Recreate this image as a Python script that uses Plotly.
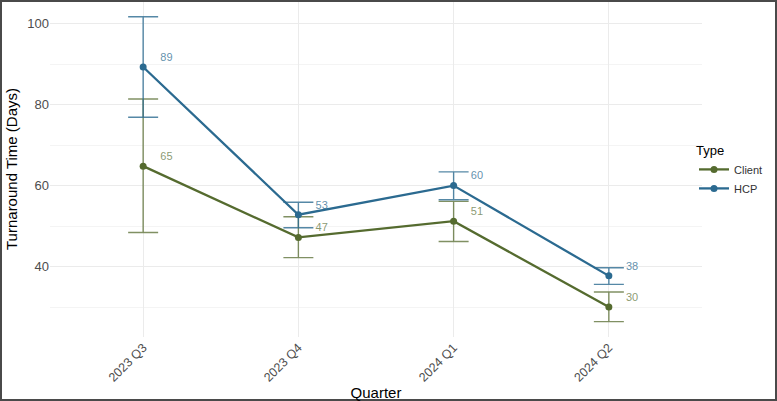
import plotly.graph_objects as go

quarters = ["2023 Q3", "2023 Q4", "2024 Q1", "2024 Q2"]

client_mean = [64.8, 47.2, 51.2, 30.0]
client_upper = [81.4, 52.3, 56.1, 33.7]
client_lower = [48.4, 42.2, 46.2, 26.4]

hcp_mean = [89.3, 52.8, 60.0, 37.7]
hcp_upper = [101.7, 55.9, 63.4, 39.7]
hcp_lower = [76.9, 49.6, 56.5, 35.6]

CLIENT = "#556B2F"
HCP = "#2B6A90"
CLIENT_ERR = "rgba(85,107,47,0.75)"
HCP_ERR = "rgba(43,106,144,0.8)"
CLIENT_TXT = "rgba(85,107,47,0.7)"
HCP_TXT = "rgba(43,106,144,0.75)"

xi = list(range(len(quarters)))

fig = go.Figure()

for name, mean, up, lo, col, ecol, tcol in [
    ("Client", client_mean, client_upper, client_lower, CLIENT, CLIENT_ERR, CLIENT_TXT),
    ("HCP", hcp_mean, hcp_upper, hcp_lower, HCP, HCP_ERR, HCP_TXT),
]:
    fig.add_trace(go.Scatter(
        x=xi, y=mean, name=name, mode="lines+markers",
        line=dict(color=col, width=2.3),
        marker=dict(color=col, size=7),
        error_y=dict(type="data", symmetric=False,
                     array=[u - m for u, m in zip(up, mean)],
                     arrayminus=[m - l for m, l in zip(mean, lo)],
                     color=ecol, thickness=1.4, width=15),
    ))
    fig.add_trace(go.Scatter(
        x=[i + 0.15 for i in xi], y=[m + 2.2 for m in mean],
        mode="text", text=[str(round(m)) for m in mean],
        textfont=dict(color=tcol, size=11, family="Liberation Sans, Arial"),
        showlegend=False, hoverinfo="skip",
    ))

L, R, T, B = 50, 75, 1, 64
W, H = 777, 401
pw, ph = W - L - R, H - T - B

def px(x):
    return (x - L) / pw

def py(y):
    return 1 - (y - T) / ph

fig.add_shape(type="rect", xref="paper", yref="paper",
              x0=px(1), x1=px(776), y0=py(400), y1=py(1),
              line=dict(color="#4a4a4a", width=2), fillcolor="rgba(0,0,0,0)", layer="above")

fig.update_layout(
    width=W, height=H,
    margin=dict(l=L, r=R, t=T, b=B),
    paper_bgcolor="white", plot_bgcolor="white",
    font=dict(family="Liberation Sans, Arial", color="#4D4D4D"),
    xaxis=dict(
        range=[-0.6, 3.6], tickvals=xi, ticktext=quarters, tickangle=-45,
        showgrid=True, gridcolor="#EBEBEB", gridwidth=1, zeroline=False,
        ticks="", tickfont=dict(size=12.5, color="#4D4D4D"),
        title=dict(text="Quarter", font=dict(size=15, color="black"), standoff=3),
    ),
    yaxis=dict(
        range=[22.6, 105.6], tickvals=[40, 60, 80, 100],
        showgrid=True, gridcolor="#EBEBEB", gridwidth=1, zeroline=False,
        minor=dict(tickvals=[30, 50, 70, 90], showgrid=True, gridcolor="#F4F4F4", gridwidth=1),
        ticks="", tickfont=dict(size=13, color="#4D4D4D"),
        title=dict(text="Turnaround Time (Days)", font=dict(size=15, color="black"), standoff=6),
    ),
    legend=dict(
        x=px(694), xanchor="left", y=py(138), yanchor="top",
        title=dict(text="Type", font=dict(size=13, color="black")),
        font=dict(size=11, color="#333333"),
        bgcolor="rgba(0,0,0,0)", tracegroupgap=2,
    ),
    showlegend=True,
)

fig.write_html("out.html")
